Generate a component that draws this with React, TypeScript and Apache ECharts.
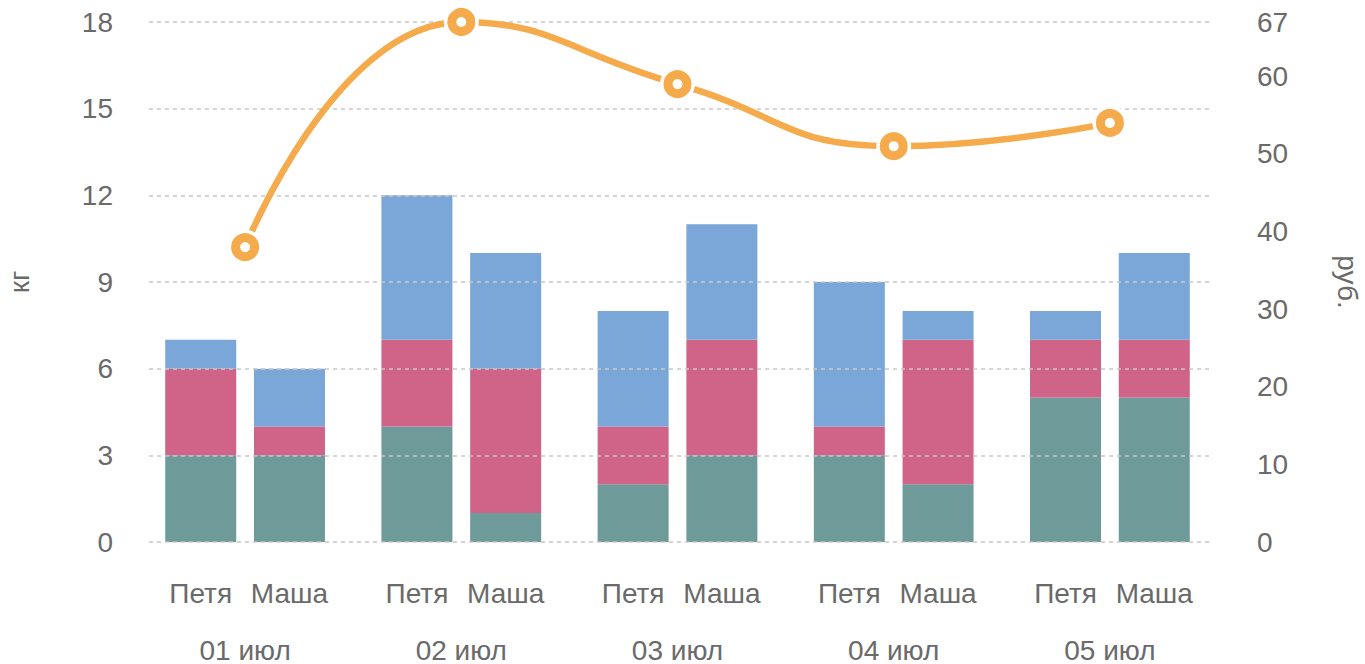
import React, { useEffect, useRef } from "react";
import * as echarts from "echarts";

const dates = ["01 июл", "02 июл", "03 июл", "04 июл", "05 июл"];
const people = ["Петя", "Маша"];
const petyaGreen = [3, 4, 2, 3, 5];
const petyaRed = [3, 3, 2, 1, 2];
const petyaBlue = [1, 5, 4, 5, 1];
const mashaGreen = [3, 1, 3, 2, 5];
const mashaRed = [1, 5, 4, 5, 2];
const mashaBlue = [2, 4, 4, 1, 3];
const priceValues = [38, 67, 59, 51, 54];
const leftTicks = { min: 0, max: 18, interval: 3 };
const rightTicks = { min: 0, max: 67, interval: 10 };

const GREEN = "#6F9A9A";
const RED = "#D06388";
const BLUE = "#7AA7D8";
const ORANGE = "#F5AB4C";
const TEXT = "#6A6A6A";
const FONT = "Liberation Sans, Arial, sans-serif";
const FS = 28;

export default function App() {
  const ref = useRef<HTMLDivElement>(null);
  useEffect(() => {
    document.body.style.margin = "0";
    if (!ref.current) return;
    const chart = echarts.init(ref.current, undefined, { renderer: "svg" });
    const bar = (name: string, stack: string, data: number[], color: string, label?: string) => ({
      name,
      type: "bar",
      stack,
      data,
      xAxisIndex: 1,
      yAxisIndex: 2,
      barWidth: 71,
      barGap: "25%",
      itemStyle: { color },
      label: label
        ? {
            show: true,
            position: "bottom",
            distance: 37,
            formatter: () => label,
            color: TEXT,
            fontSize: FS,
            fontFamily: FONT,
          }
        : { show: false },
    });
    const hiddenAxis = {
      axisLine: { show: false },
      axisTick: { show: false },
      axisLabel: { show: false },
      splitLine: { show: false },
    };
    chart.setOption({
      animation: false,
      textStyle: { fontFamily: FONT },
      grid: [
        { left: 149, right: 153, top: 22, bottom: 122, outerBoundsMode: "none", containLabel: false },
        { left: 137, right: 147, top: 22, bottom: 122, outerBoundsMode: "none", containLabel: false },
      ],
      xAxis: [
        { type: "category", gridIndex: 0, data: dates, ...hiddenAxis },
        {
          type: "category",
          gridIndex: 1,
          data: dates,
          axisLine: { show: false },
          axisTick: { show: false },
          axisLabel: { margin: 94, color: TEXT, fontSize: FS, fontFamily: FONT },
        },
      ],
      yAxis: [
        {
          type: "value",
          gridIndex: 0,
          ...leftTicks,
          z: 3,
          name: "кг",
          nameLocation: "middle",
          nameRotate: 90,
          nameGap: 116,
          nameTextStyle: { color: TEXT, fontSize: FS, fontFamily: FONT },
          axisLine: { show: false },
          axisTick: { show: false },
          axisLabel: { margin: 36, color: TEXT, fontSize: FS, fontFamily: FONT },
          splitLine: { lineStyle: { color: "#C8C8C8", type: [4, 4], width: 1.5 } },
        },
        {
          type: "value",
          gridIndex: 0,
          ...rightTicks,
          name: "руб.",
          nameLocation: "middle",
          nameRotate: -90,
          nameGap: 121,
          nameTextStyle: { color: TEXT, fontSize: FS, fontFamily: FONT },
          axisLine: { show: false },
          axisTick: { show: false },
          axisLabel: { margin: 45, color: TEXT, fontSize: FS, fontFamily: FONT },
          splitLine: { show: false },
        },
        { type: "value", gridIndex: 1, ...leftTicks, ...hiddenAxis },
        { type: "value", gridIndex: 1, ...rightTicks, position: "right", ...hiddenAxis },
      ],
      series: [
        bar("Петя 1", "p", petyaGreen, GREEN, people[0]),
        bar("Петя 2", "p", petyaRed, RED),
        bar("Петя 3", "p", petyaBlue, BLUE),
        bar("Маша 1", "m", mashaGreen, GREEN, people[1]),
        bar("Маша 2", "m", mashaRed, RED),
        bar("Маша 3", "m", mashaBlue, BLUE),
        {
          type: "line",
          xAxisIndex: 1,
          yAxisIndex: 3,
          data: priceValues,
          smooth: 0.5,
          clip: false,
          showSymbol: false,
          z: 4,
          lineStyle: { color: ORANGE, width: 6.5 },
        },
        {
          type: "scatter",
          xAxisIndex: 1,
          yAxisIndex: 3,
          data: priceValues,
          clip: false,
          z: 5,
          symbol: "circle",
          symbolSize: 35,
          itemStyle: { color: "#ffffff", opacity: 1 },
        },
        {
          type: "scatter",
          xAxisIndex: 1,
          yAxisIndex: 3,
          data: priceValues,
          clip: false,
          z: 6,
          symbol: "circle",
          symbolSize: 19,
          itemStyle: { color: "#ffffff", borderColor: ORANGE, borderWidth: 9, opacity: 1 },
        },
      ],
    });
    return () => chart.dispose();
  }, []);
  return <div ref={ref} style={{ width: 1365, height: 664 }} />;
}
